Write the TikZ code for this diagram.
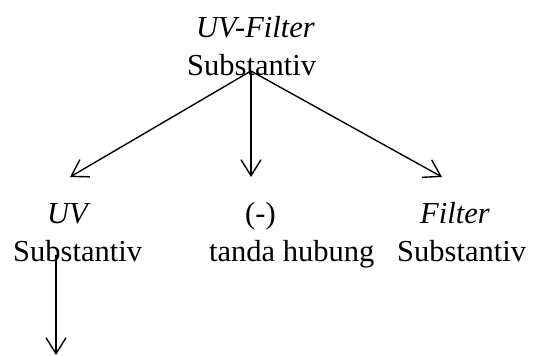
\documentclass[tikz,border=0pt]{standalone}
\usepackage{fontspec}
\setmainfont{Liberation Serif}
\usetikzlibrary{arrows.meta}
\begin{document}
\begin{tikzpicture}[x=1pt,y=-1pt,
  lbl/.style={inner sep=0pt, anchor=base west, font=\fontsize{30.5}{36}\selectfont},
  conn/.style={line width=1.4pt, -{Straight Barb[length=16pt,width=20pt,line width=1.4pt]}}]
\useasboundingbox[fill=white] (0,0) rectangle (533,356);
\node[lbl] (t1) at (196,37) {\itshape UV-Filter};
\node[lbl] (t2) at (187,75) {Substantiv};
\node[lbl] (a1) at (47,223) {\itshape UV};
\node[lbl] (a2) at (13,261) {Substantiv};
\node[lbl] (b1) at (245,223) {(-)};
\node[lbl] (b2) at (209,261) {tanda hubung};
\node[lbl] (c1) at (420,223) {\itshape Filter};
\node[lbl] (c2) at (397,261) {Substantiv};
\coordinate (o) at (251,71);
\coordinate (l) at (70,177);
\coordinate (m) at (251,177);
\coordinate (r) at (442,177);
\coordinate (d0) at (56,255);
\coordinate (d1) at (56,355);
\draw[conn] (o) -- (l);
\draw[conn] (o) -- (m);
\draw[conn] (o) -- (r);
\draw[conn] (d0) -- (d1);
\end{tikzpicture}
\end{document}
